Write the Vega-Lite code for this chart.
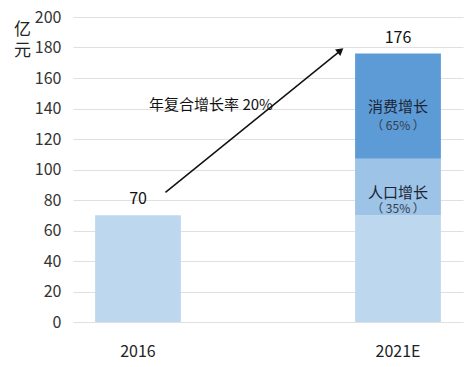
{
  "$schema": "https://vega.github.io/schema/vega-lite/v6.json",
  "width": 390,
  "height": 305,
  "autosize": "none",
  "padding": {"left": 73, "top": 17, "right": 3, "bottom": 45},
  "background": "white",
  "config": {
    "view": {"stroke": null},
    "font": "Noto Sans CJK SC",
    "text": {"font": "Noto Sans CJK SC"}
  },
  "datasets": {
    "bars": [
      {"year": "2016", "segment": "基数", "v": 0, "end": 70},
      {"year": "2021E", "segment": "基数", "v": 0, "end": 70},
      {"year": "2021E", "segment": "人口增长", "v": 70, "end": 107},
      {"year": "2021E", "segment": "消费增长", "v": 107, "end": 176}
    ],
    "totals": [
      {"year": "2016", "v": 70},
      {"year": "2021E", "v": 176}
    ],
    "seglabels": [
      {"year": "2021E", "label": "消费增长", "v": 141, "kind": "name"},
      {"year": "2021E", "label": "（ 65% ）", "v": 128.5, "kind": "pct"},
      {"year": "2021E", "label": "人口增长", "v": 84.5, "kind": "name"},
      {"year": "2021E", "label": "（ 35% ）", "v": 74, "kind": "pct"}
    ],
    "arrow": [
      {"from": "2016", "to": "2021E", "v": 85, "y2": 178}
    ],
    "note": [
      {"year": "2016", "label": "年复合增长率 20%", "v": 142}
    ]
  },
  "encoding": {
    "x": {
      "field": "year",
      "type": "nominal",
      "sort": ["2016", "2021E"],
      "scale": {"domain": ["2016", "2021E"], "paddingInner": 0.67, "paddingOuter": 0.085},
      "axis": {
        "title": null,
        "labelAngle": 0,
        "labelFontSize": 16,
        "labelColor": "#222222",
        "labelPadding": 21,
        "ticks": false,
        "domain": false,
        "grid": false
      }
    },
    "y": {
      "field": "v",
      "type": "quantitative",
      "scale": {"domain": [0, 200]},
      "axis": {
        "title": ["亿", "元"],
        "titleAngle": 0,
        "titleX": -51,
        "titleY": 4,
        "titleAlign": "center",
        "titleBaseline": "top",
        "titleFontSize": 17,
        "titleFontWeight": "normal",
        "titleLineHeight": 21,
        "titleColor": "#222222",
        "values": [0, 20, 40, 60, 80, 100, 120, 140, 160, 180, 200],
        "labelOverlap": false,
        "labelFontSize": 16,
        "labelColor": "#333333",
        "labelPadding": 12,
        "ticks": false,
        "domain": false,
        "gridColor": "#e0e0e0",
        "gridWidth": 1
      }
    }
  },
  "layer": [
    {
      "data": {"name": "bars"},
      "mark": {"type": "bar"},
      "encoding": {
        "y2": {"field": "end"},
        "color": {
          "field": "segment",
          "type": "nominal",
          "scale": {"domain": ["基数", "人口增长", "消费增长"], "range": ["#bdd7ee", "#9dc3e6", "#5d9bd6"]},
          "legend": null
        }
      }
    },
    {
      "data": {"name": "totals"},
      "mark": {"type": "text", "baseline": "bottom", "dy": -8, "fontSize": 16, "color": "#111111"},
      "encoding": {
        "text": {"field": "v", "type": "quantitative"}
      }
    },
    {
      "data": {"name": "seglabels"},
      "transform": [{"filter": "datum.kind === 'name'"}],
      "mark": {"type": "text", "baseline": "middle", "fontSize": 15, "color": "#1c2433"},
      "encoding": {
        "text": {"field": "label"}
      }
    },
    {
      "data": {"name": "seglabels"},
      "transform": [{"filter": "datum.kind === 'pct'"}],
      "mark": {"type": "text", "baseline": "middle", "fontSize": 12, "color": "#333c4a"},
      "encoding": {
        "text": {"field": "label"}
      }
    },
    {
      "data": {"name": "note"},
      "mark": {"type": "text", "baseline": "middle", "fontSize": 15, "color": "#111111"},
      "encoding": {
        "x": {"field": "year", "type": "nominal", "bandPosition": 1.35},
        "text": {"field": "label"}
      }
    },
    {
      "data": {"name": "arrow"},
      "mark": {"type": "rule", "color": "#111111", "strokeWidth": 1.5},
      "encoding": {
        "x": {"field": "from", "type": "nominal", "bandPosition": 0.82},
        "x2": {"field": "to", "bandPosition": -0.17},
        "y2": {"field": "y2"}
      }
    },
    {
      "data": {"name": "arrow"},
      "mark": {"type": "point", "shape": "triangle-up", "filled": true, "color": "#111111", "size": 70, "angle": 51, "opacity": 1},
      "encoding": {
        "x": {"field": "to", "type": "nominal", "bandPosition": -0.17},
        "y": {"field": "y2", "type": "quantitative"}
      }
    }
  ]
}
